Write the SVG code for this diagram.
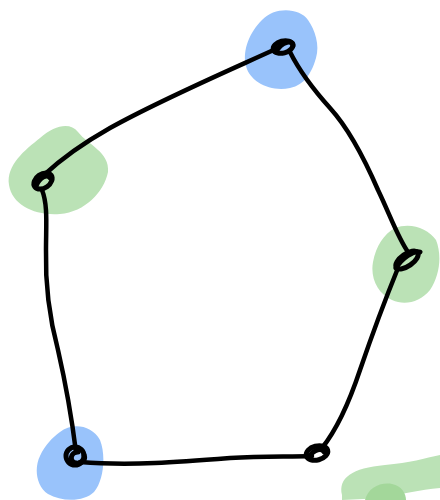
<svg xmlns="http://www.w3.org/2000/svg" width="440" height="500" viewBox="0 0 440 500">
<style>
.blue{fill:#99c3fb}
.green{fill:#bbe2b6}
.ring{fill:none;stroke:#000;stroke-width:5;stroke-linecap:round;stroke-linejoin:round}
.edge{fill:none;stroke:#000;stroke-width:4.5;stroke-linecap:round;stroke-linejoin:round}
</style>
<rect width="440" height="500" fill="#fff"/>
<g id="blobs-extra">
<path d="M342,495 C338,478 352,468 385,465 C410,463 425,458 440,455 L440,488 C420,490 400,494 385,498 L342,500 Z" class="green"/>
<path d="M365,500 C368,488 380,482 392,484 C402,486 406,494 406,500 Z" fill="#a3d79a"/>
</g>
<g id="node-top">
<path class="blue" d="M262,20 C275,6 300,8 308,20 C315,30 320,45 316,58 C312,72 305,85 290,88 C270,92 250,82 246,66 C242,50 250,32 262,20 Z"/>
<ellipse class="ring" cx="283" cy="47" rx="10" ry="6" transform="rotate(-15 283 47)"/>
<path class="ring" d="M276,52 C282,40 294,40 293,46"/>
</g>
<g id="node-left">
<path class="green" d="M40,138 C55,125 70,122 78,132 C88,145 110,152 108,172 C104,192 85,212 60,214 C35,216 12,205 9,185 C6,165 25,150 40,138 Z"/>
<ellipse class="ring" cx="43" cy="181" rx="10" ry="7" transform="rotate(-35 43 181)"/>
<path class="ring" d="M36,186 C40,176 48,174 50,178"/>
</g>
<g id="node-right">
<path class="green" d="M395,228 C410,222 428,228 436,240 C442,255 440,275 430,290 C420,302 405,306 392,300 C378,294 370,278 373,262 C376,246 384,234 395,228 Z"/>
<ellipse class="ring" cx="407" cy="260" rx="13" ry="6" transform="rotate(-35 407 260)"/>
<path class="ring" d="M396,268 C402,258 414,250 420,252"/>
</g>
<g id="node-bottom-left">
<path class="blue" d="M60,432 C72,422 92,425 100,440 C106,455 104,480 94,492 C84,502 62,502 48,494 C36,486 34,468 40,456 C45,445 52,438 60,432 Z"/>
<ellipse class="ring" cx="75" cy="456" rx="9" ry="9"/>
<path class="ring" d="M78,452 C70,452 69,462 76,463 C82,464 86,460 84,455"/>
</g>
<g id="node-bottom">
<ellipse class="ring" cx="317" cy="453" rx="11" ry="7" transform="rotate(-15 317 453)"/>
<path class="ring" d="M310,456 C314,449 322,448 324,452"/>
</g>
<g id="connectors">
<path class="edge" d="M278,48 C230,70 160,100 110,128 C80,145 60,160 44,175"/>
<path class="edge" d="M290,52 C300,72 312,88 330,108 C350,130 365,160 378,190 C390,215 398,238 408,252"/>
<path class="edge" d="M42,190 C48,205 46,225 46,250 C45,290 50,320 58,350 C66,385 72,420 76,452"/>
<path class="edge" d="M80,462 C130,466 180,462 230,458 C265,456 290,457 312,456"/>
<path class="edge" d="M322,448 C338,428 350,400 360,370 C372,335 385,300 398,268"/>
</g>
</svg>
